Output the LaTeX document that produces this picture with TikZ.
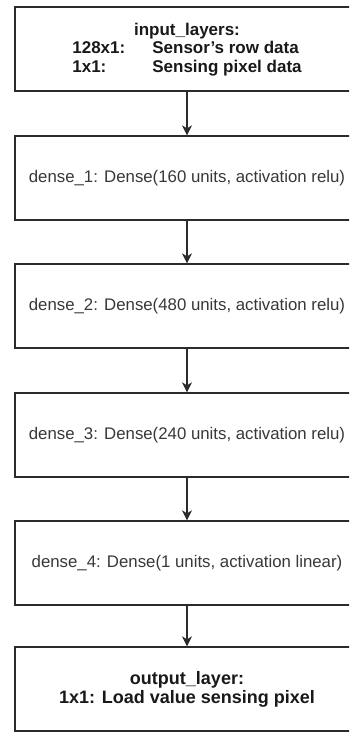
\documentclass[tikz,border=0pt]{standalone}
\usepackage{fontspec}
\setmainfont{Liberation Sans}
\usetikzlibrary{arrows.meta}
\definecolor{linec}{HTML}{2B2B2B}
\definecolor{txtc}{HTML}{383838}
\tikzset{
  layerbox/.style={draw=linec, line width=1.3pt, minimum width=344pt, minimum height=84pt, inner sep=0pt, text=txtc, font=\fontsize{16.8}{20}\selectfont, align=center},
  flow/.style={draw=linec, line width=1.3pt, -{Stealth[length=10pt,width=10pt,inset=3pt]}}
}
\begin{document}
\begin{tikzpicture}[x=1pt,y=-1pt]
\useasboundingbox (0,0) rectangle (349,732);
\clip (0,0) rectangle (349,732);
\fill[white] (0,0) rectangle (349,732);
\node[layerbox, text=black!90, font=\bfseries\fontsize{17}{19.5}\selectfont] (inp) at (187,49) {\rule{0pt}{16pt}input\_layers:\\
\begin{tabular}{@{}p{80pt}@{}l@{}}128x1: & Sensor's row data\\ 1x1: & Sensing pixel data\end{tabular}};
\node[layerbox] (d1) at (187,178) {dense\_1: Dense(160 units, activation relu)};
\node[layerbox] (d2) at (187,306) {dense\_2: Dense(480 units, activation relu)};
\node[layerbox] (d3) at (187,435) {dense\_3: Dense(240 units, activation relu)};
\node[layerbox] (d4) at (187,563) {dense\_4: Dense(1 units, activation linear)};
\node[layerbox, text=black!90, font=\bfseries\fontsize{18}{19}\selectfont] (out) at (187,689) {output\_layer:\\1x1: Load value sensing pixel};
\draw[flow] (inp) -- (d1);
\draw[flow] (d1) -- (d2);
\draw[flow] (d2) -- (d3);
\draw[flow] (d3) -- (d4);
\draw[flow] (d4) -- (out);
\end{tikzpicture}
\end{document}
